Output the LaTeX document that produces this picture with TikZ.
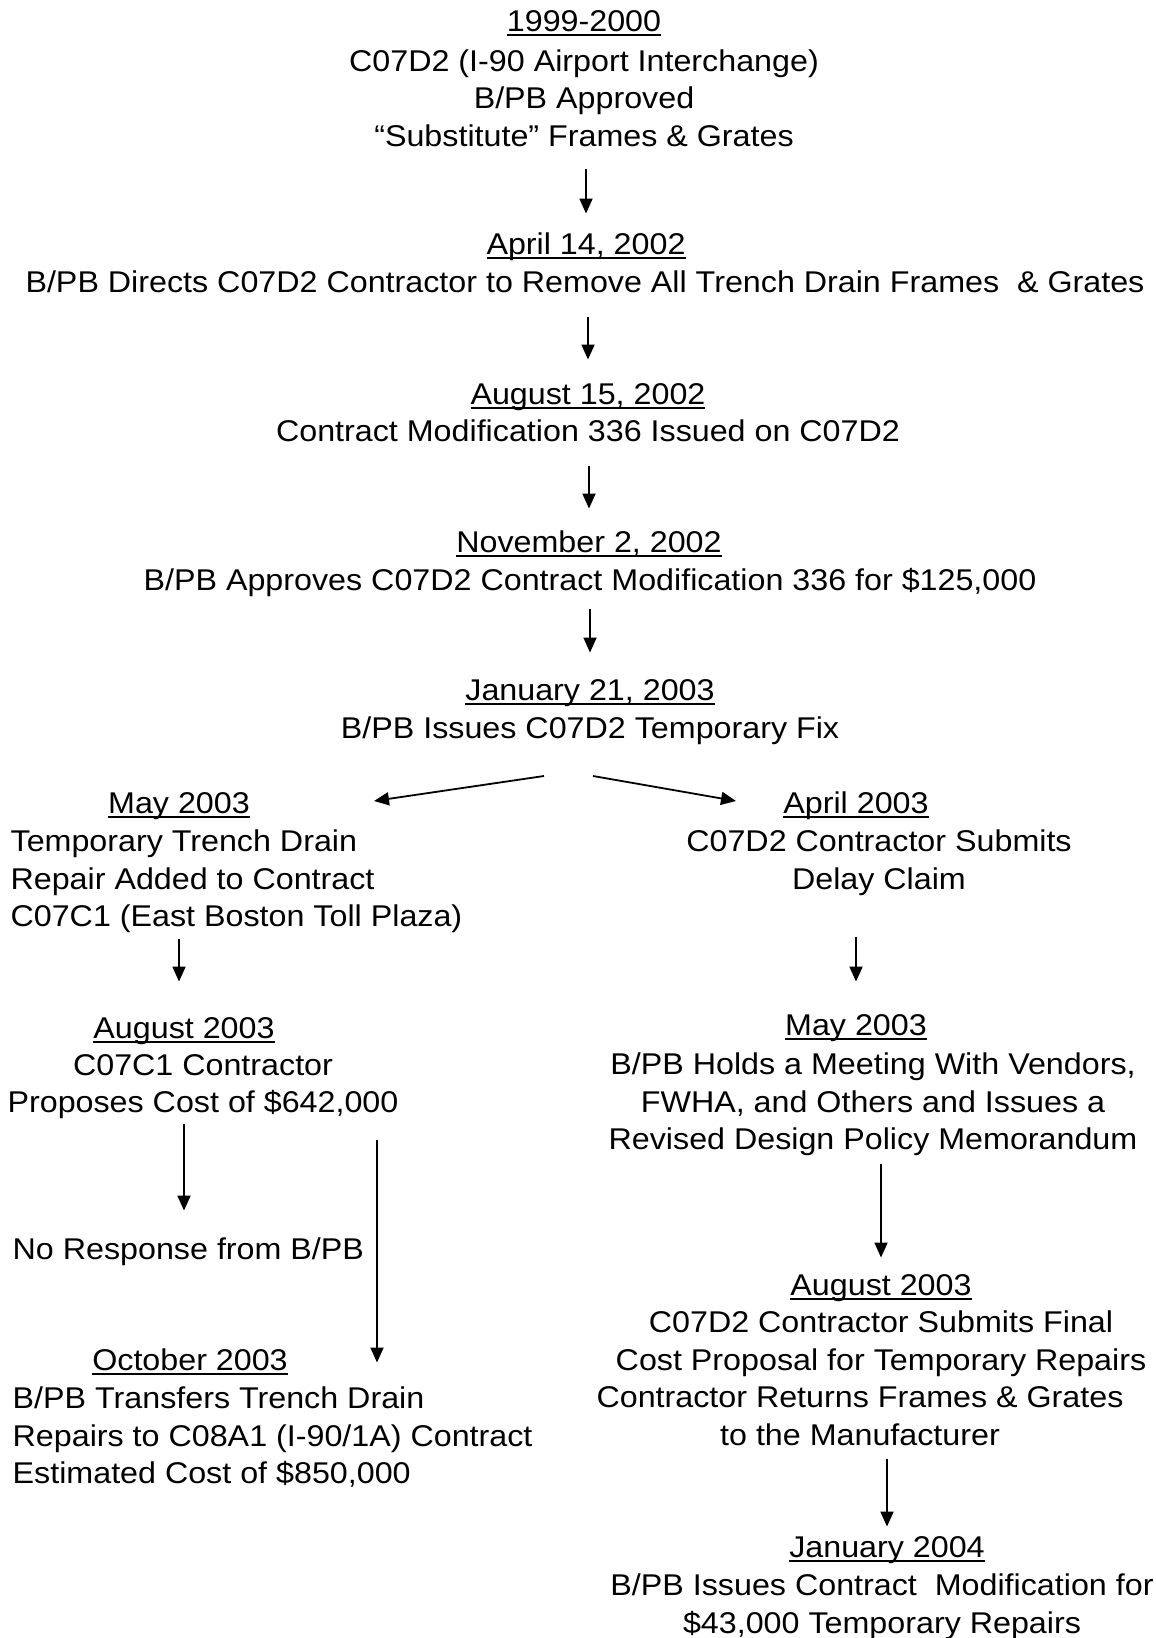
\documentclass[tikz,border=0pt]{standalone}
\usepackage{fontspec}
\setmainfont{Liberation Sans}[FakeStretch=1.075]
\usetikzlibrary{arrows.meta}
\newcommand{\dateline}[1]{\setbox0\hbox{#1}\rlap{\rule[-5pt]{\wd0}{2pt}}\box0}
\begin{document}
\begin{tikzpicture}[x=1pt,y=-1pt,
  every node/.style={inner sep=0pt,font=\fontsize{30}{37.5}\selectfont,
    execute at begin node=\strut,execute at end node=\strut},
  hdr/.style={anchor=base},
  txt/.style={anchor=north,align=center},
  ltxt/.style={anchor=north west,align=left},
  arr/.style={-{Triangle[length=15pt,width=13pt]},line width=1.8pt}]
\useasboundingbox (0,0) rectangle (1156,1638);
% main line
\node[hdr] (h1) at (584,31) {\dateline{1999-2000}};
\node[txt] (b1) at (584,49.5) {C07D2 (I-90 Airport Interchange)\\B/PB Approved\\“Substitute” Frames \& Grates};
\node[hdr] (h2) at (586,254) {\dateline{April 14, 2002}};
\node[txt] (b2) at (585,266) {B/PB Directs C07D2 Contractor to Remove All Trench Drain Frames~ \& Grates};
\node[hdr] (h3) at (588,404) {\dateline{August 15, 2002}};
\node[txt] (b3) at (588,415) {Contract Modification 336 Issued on C07D2};
\node[hdr] (h4) at (589,552) {\dateline{November 2, 2002}};
\node[txt] (b4) at (590,564) {B/PB Approves C07D2 Contract Modification 336 for \$125,000};
\node[hdr] (h5) at (590,700) {\dateline{January 21, 2003}};
\node[txt] (b5) at (590,712) {B/PB Issues C07D2 Temporary Fix};
% left branch
\node[hdr] (h6) at (179,813) {\dateline{May 2003}};
\node[ltxt] (b6) at (10.4,830) {Temporary Trench Drain\\Repair Added to Contract\\C07C1 (East Boston Toll Plaza)};
\node[hdr] (h8) at (184,1038) {\dateline{August 2003}};
\node[txt] (b8) at (203,1054) {C07C1 Contractor\\Proposes Cost of \$642,000};
\node[anchor=base west] (nr) at (12.5,1259) {No Response from B/PB};
\node[hdr] (h10) at (190,1370) {\dateline{October 2003}};
\node[ltxt] (b10) at (12.5,1387) {B/PB Transfers Trench Drain\\Repairs to C08A1 (I-90/1A) Contract\\Estimated Cost of \$850,000};
% right branch
\node[hdr] (h7) at (856,813) {\dateline{April 2003}};
\node[txt] (b7) at (879,830) {C07D2 Contractor Submits\\Delay Claim};
\node[hdr] (h9) at (856,1035) {\dateline{May 2003}};
\node[txt] (b9) at (873,1053) {B/PB Holds a Meeting With Vendors,\\FWHA, and Others and Issues a\\Revised Design Policy Memorandum};
\node[hdr] (h11) at (881,1295) {\dateline{August 2003}};
\node[txt] (b11) at (881,1311) {C07D2 Contractor Submits Final\\Cost Proposal for Temporary Repairs\\Contractor Returns Frames \& Grates\rule{42pt}{0pt}\\to the Manufacturer\hspace*{42pt}};
\node[hdr] (h12) at (887,1557) {\dateline{January 2004}};
\node[txt] (b12) at (882,1574) {B/PB Issues Contract~ Modification for\\\$43,000 Temporary Repairs};
% arrows
\draw[arr,shorten <=11pt,shorten >=14pt] (b1.south -| h2.north) -- (h2.north);
\draw[arr,shorten <=13pt,shorten >=18pt] (b2.south -| h3.north) -- (h3.north);
\draw[arr,shorten <=13pt,shorten >=17pt] (b3.south -| h4.north) -- (h4.north);
\draw[arr,shorten <=7pt,shorten >=21pt] (b4.south -| h5.north) -- (h5.north);
\coordinate (forkL) at (544,776);
\coordinate (forkR) at (593,776);
\coordinate (toL) at (374,801);
\coordinate (toR) at (736,801);
\draw[arr] (forkL) -- (toL);
\draw[arr] (forkR) -- (toR);
\draw[arr,shorten <=1pt,shorten >=30pt] (b6.south -| h6.south) -- (h6.south |- h8.north);
\draw[arr,shorten >=22pt] (b8.south -| h8.south) -- (h8.south |- nr.north);
\coordinate (skip) at (377,1140);
\draw[arr] (skip) -- (skip |- h10);
\draw[arr,shorten <=36pt,shorten >=27pt] (b7.south -| h9.north) -- (h9.north);
\draw[arr,shorten <=3pt,shorten >=11pt] (b9.south -| h11.north) -- (h11.north);
\draw[arr,shorten <=2pt,shorten >=4pt] (b11.south -| h12.north) -- (h12.north);
\end{tikzpicture}
\end{document}
